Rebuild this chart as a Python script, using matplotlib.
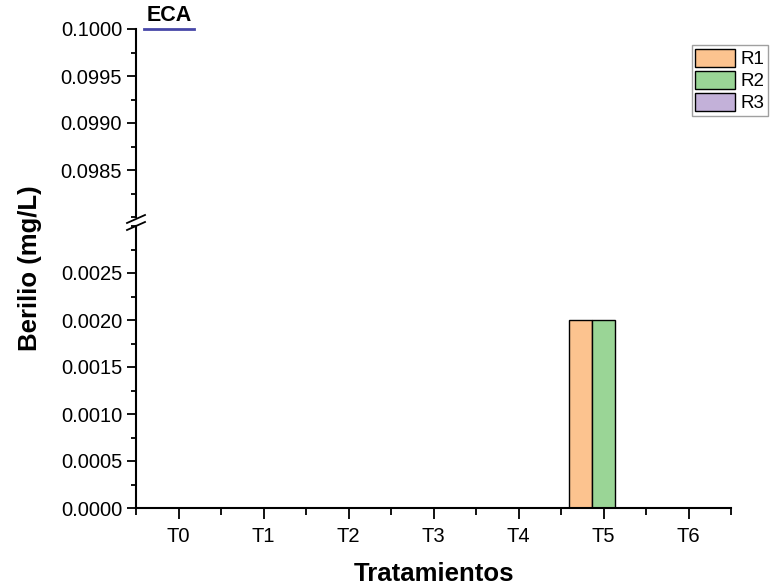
import numpy as np
import matplotlib
matplotlib.use('Agg')
import matplotlib.pyplot as plt
from matplotlib.ticker import MultipleLocator, FormatStrFormatter
from matplotlib.patches import Patch

plt.rcParams['font.family'] = ['Liberation Sans', 'DejaVu Sans']

treatments = ['T0', 'T1', 'T2', 'T3', 'T4', 'T5', 'T6']
r1 = [0, 0, 0, 0, 0, 0.002, 0]
r2 = [0, 0, 0, 0, 0, 0.002, 0]
r3 = [0, 0, 0, 0, 0, 0, 0]
series = ['R1', 'R2', 'R3']
colors = ['#fcc38f', '#9ad596', '#c3b1d9']
eca_value = 0.1
eca_span = [-0.41, 0.18]

W, H = 770, 586
fig = plt.figure(figsize=(W / 100, H / 100), dpi=100)
left, right = 136 / W, 731 / W
ax_bot = fig.add_axes([left, 1 - 508 / H, right - left, (508 - 226) / H])
ax_top = fig.add_axes([left, 1 - 217 / H, right - left, (217 - 29) / H], sharex=ax_bot)

x = np.arange(len(treatments))
width = 0.27
for ax in (ax_bot, ax_top):
    for i, (vals, c) in enumerate(zip([r1, r2, r3], colors)):
        ax.bar(x + (i - 1) * width, vals, width, color=c, edgecolor='black', linewidth=1)

ax_top.plot(eca_span, [eca_value, eca_value], color='#4747a8', lw=2, clip_on=False)
ax_top.text(np.mean(eca_span) + 0.01, eca_value + 0.00003, 'ECA', ha='center', va='bottom',
            fontsize=15.5, fontweight='bold')

ax_bot.set_ylim(0, 0.003)
ax_top.set_ylim(0.098, 0.1)
ax_bot.set_xlim(-0.5, 6.5)

for ax in (ax_bot, ax_top):
    ax.spines['top'].set_visible(False)
    ax.spines['right'].set_visible(False)
    ax.spines['left'].set_linewidth(1.5)
    ax.spines['bottom'].set_linewidth(1.5)
    ax.yaxis.set_major_formatter(FormatStrFormatter('%.4f'))
    ax.tick_params(axis='both', which='major', direction='out', length=6.5, width=1.3, labelsize=14.5)
    ax.tick_params(axis='both', which='minor', direction='out', length=3.5, width=1.3)

ax_top.spines['bottom'].set_visible(False)
ax_top.tick_params(axis='x', which='both', bottom=False, labelbottom=False)
ax_top.yaxis.set_major_locator(MultipleLocator(0.0005))
ax_top.yaxis.set_minor_locator(MultipleLocator(0.00025))
ax_top.set_yticks([0.0985, 0.099, 0.0995, 0.1])

ax_bot.set_yticks(np.arange(0, 0.0026, 0.0005))
ax_bot.yaxis.set_minor_locator(MultipleLocator(0.00025))
ax_bot.set_xticks(x)
ax_bot.set_xticklabels(treatments)
ax_bot.xaxis.set_minor_locator(MultipleLocator(0.5))
ax_bot.tick_params(axis='x', which='minor', length=5)
ax_bot.tick_params(axis='x', which='major', length=8, pad=6)

# break marks on the y axis
for yb in (219, 226):
    fig.add_artist(plt.Line2D([127 / W, 145 / W], [1 - (yb + 4) / H, 1 - (yb - 4) / H],
                              color='black', lw=1.3))

ax_bot.set_xlabel('Tratamientos', fontsize=18.5, fontweight='bold', labelpad=11)
fig.text(30 / W, 1 - 268 / H, 'Berilio (mg/L)', rotation=90, ha='center', va='center',
         fontsize=18.5, fontweight='bold')

handles = [Patch(facecolor=c, edgecolor='black', linewidth=1) for c in colors]
fig.legend(handles, series, loc='upper right', bbox_to_anchor=(768 / W, 1 - 45 / H),
           fontsize=13.5, frameon=True, fancybox=False, edgecolor='#888888',
           handlelength=2.1, handleheight=1.1, labelspacing=0.15, borderpad=0.2,
           handletextpad=0.3, borderaxespad=0)

fig.savefig('out.png', dpi=100)
